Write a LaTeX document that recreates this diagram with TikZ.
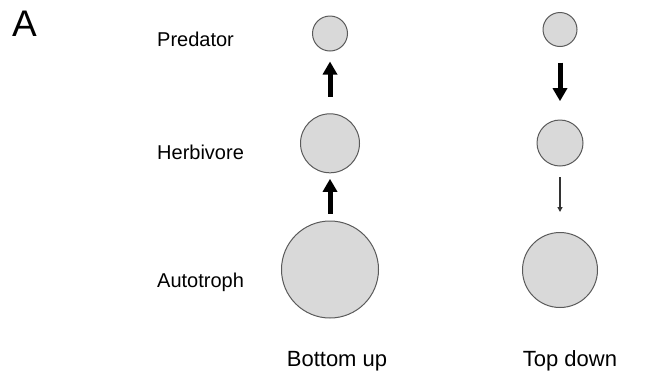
\documentclass[tikz,border=0pt]{standalone}
\usepackage{fontspec}
\setmainfont{Liberation Sans}
\usetikzlibrary{arrows.meta}
\definecolor{popfill}{HTML}{D9D9D9}
\definecolor{popline}{HTML}{5A5A5A}
\begin{document}
\begin{tikzpicture}[x=1pt,y=-1pt,
        pop/.style={circle, draw=popline, line width=1pt, fill=popfill, inner sep=0pt},
        level/.style={anchor=base west, inner sep=0pt, font=\fontsize{20}{24}\selectfont},
        title/.style={anchor=base, inner sep=0pt, font=\fontsize{22}{26}\selectfont},
        strong/.style={line width=5pt, -{Triangle[width=14pt,length=13pt]}},
        weak/.style={line width=1.2pt, draw=black!80, -{Triangle[width=5pt,length=5pt]}}]
        \useasboundingbox (0,0) rectangle (662,376);
        % Panel letter
            \node[anchor=base west, inner sep=0pt, font=\fontsize{37}{40}\selectfont] (letter) at (12,36) {A};
        % Trophic levels
            \node[level] (predator) at (157,46.5) {Predator};
            \node[level] (herbivore) at (157,159.5) {Herbivore};
            \node[level] (autotroph) at (157,287.5) {Autotroph};
        % Bottom up
            \node[pop, minimum size=35pt] (bupred) at (330,33.5) {};
            \node[pop, minimum size=59pt] (buherb) at (330,143.3) {};
            \node[pop, minimum size=97pt] (buauto) at (330,269.5) {};
            \draw[strong, shorten <=16.5pt, shorten >=10pt] (buherb) -- (bupred);
            \draw[strong, shorten <=7pt, shorten >=5.5pt] (buauto) -- (buherb);
            \node[title] (bottomup) at (337,366) {Bottom up};
        % Top down
            \node[pop, minimum size=34pt] (tdpred) at (560,29.5) {};
            \node[pop, minimum size=46pt] (tdherb) at (560,143) {};
            \node[pop, minimum size=75pt] (tdauto) at (560,270) {};
            \draw[strong, shorten <=15.5pt, shorten >=18.3pt] (tdpred) -- (tdherb);
            \draw[weak, shorten <=10.7pt, shorten >=20pt] (tdherb) -- (tdauto);
            \node[title] (topdown) at (570,366) {Top down};
\end{tikzpicture}
\end{document}
